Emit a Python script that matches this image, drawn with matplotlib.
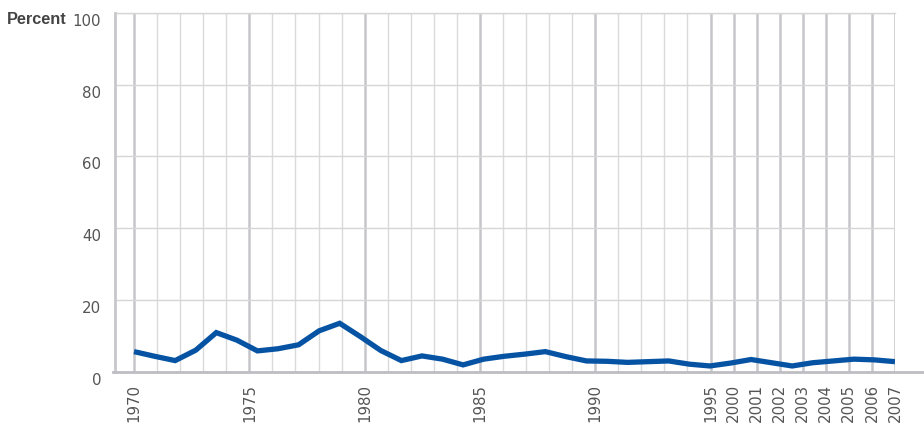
import numpy as np
import matplotlib
matplotlib.use("Agg")
import matplotlib.pyplot as plt
from matplotlib.transforms import ScaledTranslation

plt.rcParams["font.family"] = ["DejaVu Sans"]

# category axis: yearly to 1995, then 2000-2007
categories = [str(y) for y in range(1970, 1996)] + [str(y) for y in range(2000, 2008)]
labeled = ["1970", "1975", "1980", "1985", "1990", "1995",
           "2000", "2001", "2002", "2003", "2004", "2005", "2006", "2007"]

# line series: one value per year 1970-2007 (spread evenly across the axis)
values = [5.6, 4.3, 3.1, 6.0, 10.9, 8.8, 5.8, 6.4, 7.5, 11.4,
          13.5, 9.8, 5.9, 3.1, 4.4, 3.5, 1.9, 3.5, 4.3, 4.9,
          5.6, 4.2, 3.0, 2.9, 2.6, 2.8, 3.0, 2.1, 1.6, 2.4,
          3.4, 2.5, 1.6, 2.5, 3.0, 3.5, 3.3, 2.8]
yticks = [0, 20, 40, 60, 80, 100]

fig = plt.figure(figsize=(9.24, 4.25), dpi=100)
ax = fig.add_axes([0.1245, 0.1254, 0.9686 - 0.1245, 0.9694 - 0.1254])

n = len(categories)

# vertical grid lines, heavier on labelled categories
for i, c in enumerate(categories):
    if c in labeled:
        ax.axvline(i, color="#c6c6ca", lw=1.8, zorder=1)
    else:
        ax.axvline(i, color="#dadada", lw=1.0, zorder=1)
for v in yticks[1:]:
    ax.axhline(v, color="#d6d6d6", lw=1.0, zorder=1)

xs = np.linspace(0, n - 1, len(values))
ax.plot(xs, values, color="#0653a4", lw=3.8, solid_joinstyle="miter",
        solid_capstyle="butt", zorder=3)

ax.set_xlim(-0.824, n - 1)
ax.set_ylim(0, 100)

for s in ["top", "right", "bottom"]:
    ax.spines[s].set_visible(False)
ax.spines["left"].set_color("#c8c8cc")
ax.spines["left"].set_linewidth(2.0)
ax.plot([0, 1], [1, 1], transform=ax.transAxes, color="#d6d6d6", lw=1.0,
        clip_on=False, zorder=1)
# bottom axis line runs on to the right edge
ax.plot([-0.003, 1.04], [0, 0], transform=ax.transAxes, color="#bdbdc2",
        lw=2.0, clip_on=False, zorder=4)

ax.set_yticks(yticks)
ax.set_yticklabels([str(v) for v in yticks])
ax.tick_params(axis="y", length=0, pad=10, labelsize=10.8, labelcolor="#555555")
offset = ScaledTranslation(0, -7 / 100, fig.dpi_scale_trans)
for lab in ax.get_yticklabels():
    lab.set_transform(lab.get_transform() + offset)

ticks = [i for i, c in enumerate(categories) if c in labeled]
ax.set_xticks(ticks)
ax.set_xticklabels([categories[i] for i in ticks], rotation=90)
ax.tick_params(axis="x", length=0, pad=9, labelsize=10.8, labelcolor="#555555")

fig.text(67 / 924, 1 - 20 / 425, "Percent", ha="right", va="center",
         fontsize=11.7, fontweight="bold", color="#444444",
         family=["Liberation Sans", "DejaVu Sans"])

fig.savefig("out.png", dpi=100)
